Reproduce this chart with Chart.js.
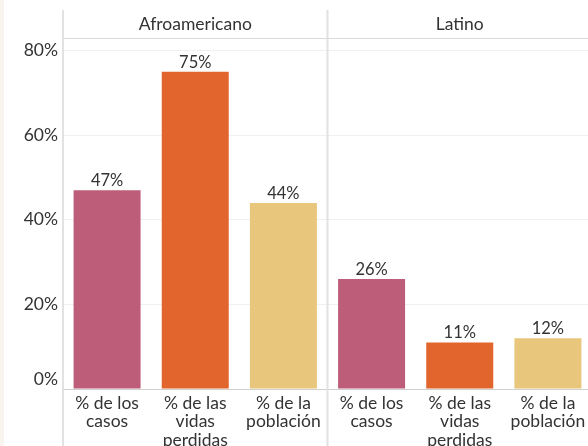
<!DOCTYPE html>
<html lang="es">
<head>
    <meta charset="UTF-8">
    <title>Casos, vidas perdidas y población por raza y etnia</title>
    <script src="https://cdn.jsdelivr.net/npm/chart.js"></script>
    <style>
        body {
            margin: 0;
            background: #ffffff;
            width: 588px;
            height: 446px;
            overflow: hidden;
            position: relative;
            font-family: Lato, Arial, sans-serif;
        }
        .strip {
            position: absolute;
            left: 0;
            top: 0;
            width: 4px;
            height: 446px;
            background: #faf4ef;
        }
        canvas {
            position: absolute;
            left: 0;
            top: 0;
        }
    </style>
</head>
<body>
    <div class="strip"></div>
    <canvas id="chart" width="592" height="446"></canvas>

    <script>
        // data
        const groups = ['Afroamericano', 'Latino'];
        const measures = [['% de los', 'casos'], ['% de las', 'vidas', 'perdidas'], ['% de la', 'población']];
        const afroValues = [47, 75, 44];
        const latinoValues = [26, 11, 12];
        const yTicks = [0, 20, 40, 60, 80];
        const measureColors = ['#bd5d79', '#e1652c', '#e8c67c'];

        const labels = [...measures, ...measures];
        const values = [...afroValues, ...latinoValues];
        const colors = [...measureColors, ...measureColors];

        const textColor = '#333333';
        const font = { family: 'Lato', size: 17.5, lineHeight: 1.05 };

        // value labels above the bars
        const valueLabels = {
            id: 'valueLabels',
            afterDatasetsDraw(chart) {
                const ctx = chart.ctx;
                const meta = chart.getDatasetMeta(0);
                ctx.save();
                ctx.font = '16.5px Lato';
                ctx.fillStyle = textColor;
                ctx.textAlign = 'center';
                ctx.textBaseline = 'alphabetic';
                meta.data.forEach((bar, i) => {
                    ctx.fillText(values[i] + '%', bar.x, bar.y - 4);
                });
                ctx.restore();
            }
        };

        // panel frame: group headers, axis line, header line, divider between groups
        const panelLines = {
            id: 'panelLines',
            afterDraw(chart) {
                const ctx = chart.ctx;
                const area = chart.chartArea;
                const x = chart.scales.x;
                const divider = (x.getPixelForValue(2) + x.getPixelForValue(3)) / 2;
                ctx.save();
                ctx.font = '17.5px Lato';
                ctx.fillStyle = textColor;
                ctx.textAlign = 'center';
                ctx.textBaseline = 'middle';
                groups.forEach((g, i) => {
                    const first = x.getPixelForValue(i * 3);
                    const last = x.getPixelForValue(i * 3 + 2);
                    ctx.fillText(g, (first + last) / 2, 24);
                });
                ctx.strokeStyle = '#d9d9d9';
                ctx.lineWidth = 1;
                ctx.beginPath();
                ctx.moveTo(area.left, area.top + 0.5);
                ctx.lineTo(area.right, area.top + 0.5);
                ctx.stroke();
                ctx.strokeStyle = '#e2e2e2';
                ctx.lineWidth = 2;
                [area.left, divider].forEach(px => {
                    ctx.beginPath();
                    ctx.moveTo(px, 10);
                    ctx.lineTo(px, chart.height);
                    ctx.stroke();
                });
                ctx.restore();
            }
        };

        new Chart(document.getElementById('chart'), {
            type: 'bar',
            data: {
                labels: labels,
                datasets: [{
                    data: values,
                    backgroundColor: colors,
                    barPercentage: 0.76,
                    categoryPercentage: 1
                }]
            },
            options: {
                responsive: false,
                animation: false,
                layout: { padding: { top: 38, right: 0, left: 0, bottom: 0 } },
                plugins: {
                    legend: { display: false },
                    tooltip: { enabled: false }
                },
                scales: {
                    x: {
                        grid: { display: false },
                        border: { display: true, color: '#d0d0d0', width: 1 },
                        ticks: { color: textColor, font: font, padding: -3, maxRotation: 0, autoSkip: false },
                        afterFit(scale) { scale.height = 57; }
                    },
                    y: {
                        min: 0,
                        max: 83,
                        afterBuildTicks(scale) {
                            scale.ticks = yTicks.map(v => ({ value: v }));
                        },
                        grid: {
                            color: ctx => ctx.tick && ctx.tick.value === 0 ? '#d0d0d0' : '#f0f0f0',
                            drawTicks: false
                        },
                        border: { display: false },
                        ticks: {
                            color: textColor,
                            font: font,
                            padding: 5,
                            // the 0% label sits a little above the baseline, as in the original
                            callback: v => v === 0 ? ['0%', ''] : v + '%'
                        },
                        afterFit(scale) { scale.width = 63; }
                    }
                }
            },
            plugins: [valueLabels, panelLines]
        });
    </script>
</body>
</html>
